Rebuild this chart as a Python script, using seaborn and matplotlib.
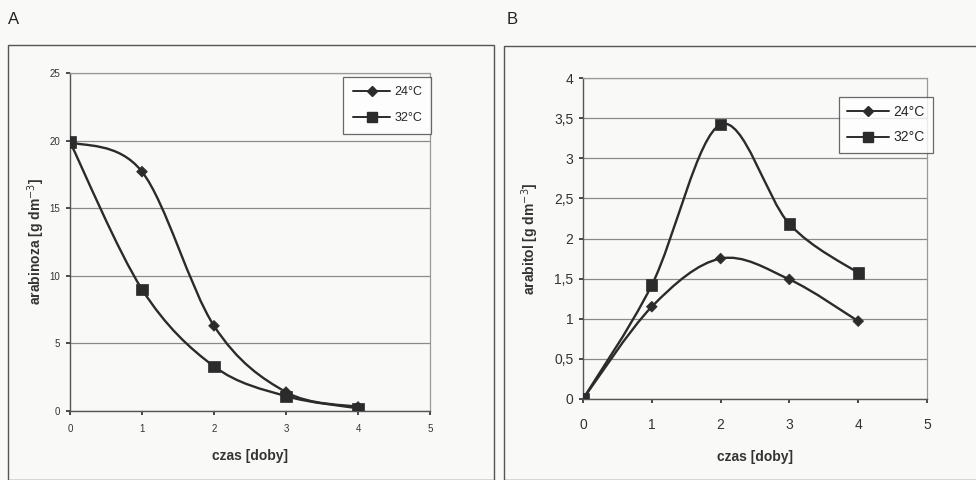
import numpy as np
import pandas as pd
import matplotlib
matplotlib.use("Agg")
import matplotlib.pyplot as plt
import seaborn as sns
from matplotlib.path import Path
from matplotlib.patches import PathPatch, Rectangle
from matplotlib.lines import Line2D
from matplotlib.ticker import FuncFormatter

sns.set_theme(style="white")
plt.rcParams['font.family'] = ['Liberation Sans', 'DejaVu Sans']
plt.rcParams['axes.unicode_minus'] = False

days = [0, 1, 2, 3, 4]
series_names = ["24°C", "32°C"]
arabinoza_24 = [19.9, 17.7, 6.3, 1.4, 0.3]
arabinoza_32 = [19.9, 9.0, 3.3, 1.1, 0.2]
arabitol_24 = [0.0, 1.15, 1.75, 1.49, 0.97]
arabitol_32 = [0.0, 1.42, 3.42, 2.18, 1.57]
yticks_a = [0, 5, 10, 15, 20, 25]
yticks_b = [0, 0.5, 1, 1.5, 2, 2.5, 3, 3.5, 4]
xticks = [0, 1, 2, 3, 4, 5]

line_col = "#2b2b2b"
bg = "#f9f9f8"

fig = plt.figure(figsize=(9.76, 4.8), dpi=100, facecolor=bg)
W, H = 976, 480

def ax_rect(l, t, r, b):
    return [l / W, 1 - b / H, (r - l) / W, (b - t) / H]

# panel frames
fig.patches.append(Rectangle((8 / W, 0.0), (494 - 8) / W, 1 - 45 / H,
                             transform=fig.transFigure, fill=False,
                             edgecolor="#555555", lw=1.0))
fig.patches.append(Rectangle((504 / W, 0.0), (990 - 504) / W, 1 - 46 / H,
                             transform=fig.transFigure, fill=False,
                             edgecolor="#555555", lw=1.0))
fig.text(8 / W, 1 - 19 / H, "A", fontsize=12, va="center", ha="left", color="#222222")
fig.text(507 / W, 1 - 19 / H, "B", fontsize=12, va="center", ha="left", color="#222222")


def smooth_path(xs, ys):
    pts = np.column_stack([xs, ys]).astype(float)
    n = len(pts)
    verts = [pts[0]]
    codes = [Path.MOVETO]
    for i in range(n - 1):
        p0 = pts[i - 1] if i > 0 else pts[i]
        p1 = pts[i]
        p2 = pts[i + 1]
        p3 = pts[i + 2] if i + 2 < n else pts[i + 1]
        c1 = p1 + (p2 - p0) / 6.0
        c2 = p2 - (p3 - p1) / 6.0
        verts += [c1, c2, p2]
        codes += [Path.CURVE4] * 3
    return Path(verts, codes)


def panel(ax, s24, s32, ymax, yticks, ylabel, fmt, tick_fs, lab_fs,
          xpad, xlabpad, ylabpad):
    df = pd.DataFrame({
        "czas": days * 2,
        "val": list(s24) + list(s32),
        "seria": [series_names[0]] * len(days) + [series_names[1]] * len(days),
    })
    ax.set_facecolor("none")
    for name, ys in zip(series_names, [s24, s32]):
        ax.add_patch(PathPatch(smooth_path(days, ys), fill=False,
                               edgecolor=line_col, lw=1.7, zorder=3))
    sns.scatterplot(data=df, x="czas", y="val", style="seria",
                    markers={series_names[0]: "D", series_names[1]: "s"},
                    size="seria", sizes={series_names[0]: 30, series_names[1]: 65},
                    color=line_col, edgecolor=line_col, linewidth=0.5,
                    legend=False, ax=ax, zorder=4)
    ax.set_xlim(0, 5)
    ax.set_ylim(0, ymax)
    ax.set_xticks(xticks)
    ax.set_yticks(yticks)
    ax.yaxis.set_major_formatter(FuncFormatter(fmt))
    ax.grid(axis="y", color="#8a8a8a", lw=0.9)
    ax.grid(axis="x", visible=False)
    for sp in ["top", "right"]:
        ax.spines[sp].set_color("#9a9a9a")
        ax.spines[sp].set_linestyle((0, (1, 1)))
        ax.spines[sp].set_linewidth(0.9)
    for sp in ["left", "bottom"]:
        ax.spines[sp].set_color("#555555")
        ax.spines[sp].set_linewidth(1.0)
    ax.tick_params(axis="both", labelsize=tick_fs, colors="#333333",
                   length=3, direction="out", left=True, bottom=True)
    ax.tick_params(axis="x", pad=xpad)
    ax.tick_params(axis="y", pad=4)
    ax.set_xlabel("czas [doby]", fontsize=lab_fs, fontweight="bold",
                  color="#333333", labelpad=xlabpad)
    ax.set_ylabel(ylabel, fontsize=lab_fs, fontweight="bold", color="#333333",
                  labelpad=ylabpad)
    handles = [Line2D([], [], color=line_col, lw=1.4, marker="D", markersize=5),
               Line2D([], [], color=line_col, lw=1.4, marker="s", markersize=7.5)]
    return handles


fmt_a = lambda v, p: f"{v:g}"
fmt_b = lambda v, p: f"{v:g}".replace(".", ",")

axA = fig.add_axes(ax_rect(70, 73, 430, 411))
hA = panel(axA, arabinoza_24, arabinoza_32, 25, yticks_a,
           "arabinoza [g dm$^{-3}$]", fmt_a, 7, 10, 6, 11, 2)
legA = axA.legend(hA, series_names, loc="upper right", bbox_to_anchor=(1.004, 0.988),
                  borderaxespad=0,
                  frameon=True, fancybox=False, fontsize=9, handlelength=3.0,
                  borderpad=0.75, labelspacing=1.1, handletextpad=0.3)
legA.get_frame().set_edgecolor("#444444")
legA.get_frame().set_linewidth(0.9)
legA.get_frame().set_facecolor("white")

axB = fig.add_axes(ax_rect(583, 78, 927, 399))
hB = panel(axB, arabitol_24, arabitol_32, 4, yticks_b,
           "arabitol [g dm$^{-3}$]", fmt_b, 10, 10, 11, 13, 9)
legB = axB.legend(hB, series_names, loc="upper right", bbox_to_anchor=(1.017, 0.941),
                  borderaxespad=0,
                  frameon=True, fancybox=False, fontsize=10, handlelength=3.0,
                  borderpad=0.6, labelspacing=0.8, handletextpad=0.3)
legB.get_frame().set_edgecolor("#444444")
legB.get_frame().set_linewidth(0.9)
legB.get_frame().set_facecolor("white")

fig.savefig("out.png", dpi=100, facecolor=bg)
